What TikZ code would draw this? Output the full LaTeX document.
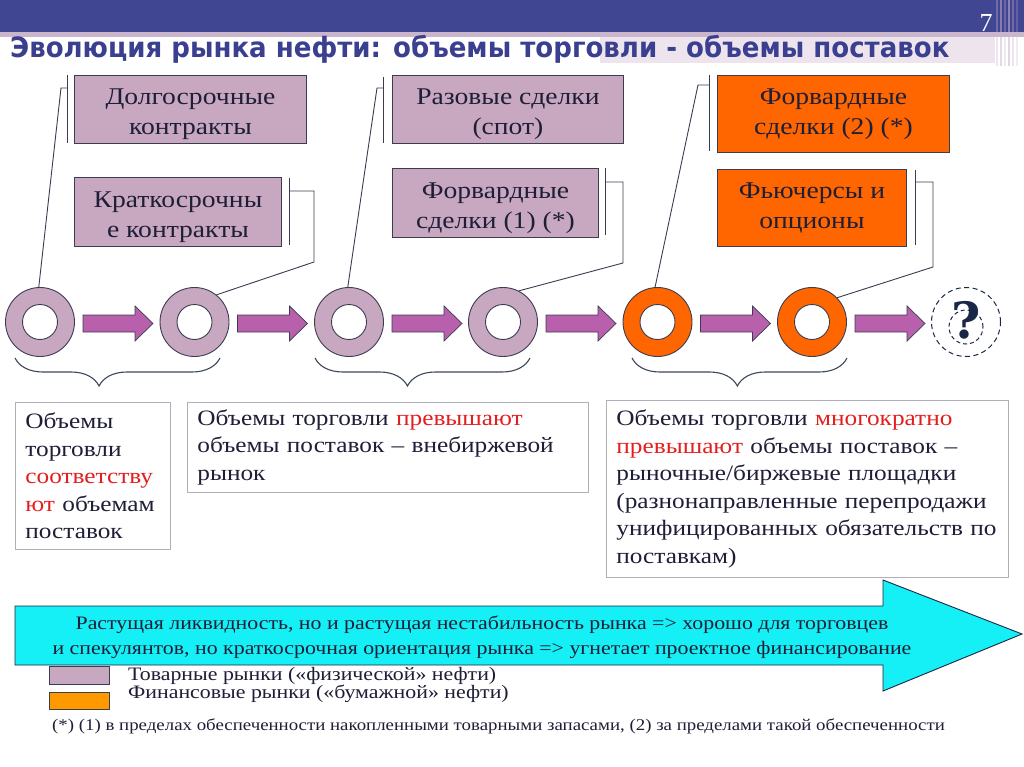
\documentclass[tikz,border=0pt]{standalone}
\usepackage{fontspec}
\setmainfont{Liberation Serif}
\newfontfamily\bodyfont{Liberation Serif}[FakeStretch=1.15]
\newfontfamily\titlefont{DejaVu Sans}[FakeStretch=0.93]
\newfontfamily\qfont{DejaVu Serif}
\usetikzlibrary{decorations.pathreplacing}
\definecolor{hdr}{RGB}{65,70,147}
\definecolor{hdrlight}{RGB}{201,181,204}
\definecolor{hdrpale}{RGB}{238,228,238}
\definecolor{titleblue}{RGB}{58,63,143}
\definecolor{mauve}{RGB}{200,168,192}
\definecolor{orng}{RGB}{255,102,0}
\definecolor{legorange}{RGB}{255,153,0}
\definecolor{bordc}{RGB}{60,60,80}
\definecolor{txt}{RGB}{30,30,55}
\definecolor{redtxt}{RGB}{228,30,30}
\definecolor{flowc}{RGB}{184,96,172}
\definecolor{cyanc}{RGB}{20,240,245}
\definecolor{navy}{RGB}{25,40,70}
\definecolor{graybord}{RGB}{175,175,185}
\definecolor{bracec}{RGB}{60,72,90}
\newcommand{\rt}[1]{\textcolor{redtxt}{#1}}
\newcommand{\tstrut}{\rule{0pt}{26pt}}
\tikzset{
  mbox/.style={draw=bordc, line width=0.9pt, fill=mauve, anchor=north west, inner sep=0pt, align=center, text=txt, font=\bodyfont\fontsize{24}{30}\selectfont},
  obox/.style={mbox, fill=orng},
  ring/.style={circle, draw=bordc, line width=0.9pt, minimum size=69pt, inner sep=0pt},
  hole/.style={circle, draw=bordc, fill=white, line width=0.9pt, minimum size=35pt, inner sep=0pt},
  flowarrow/.style={draw=bordc, line width=0.7pt, fill=flowc},
  callout/.style={draw=bordc, line width=0.9pt},
  bracestyle/.style={draw=bracec, line width=1.1pt},
  txtbox/.style={draw=graybord, line width=0.8pt, fill=white, anchor=north west, align=left, text=txt, font=\bodyfont\fontsize{22}{27.5}\selectfont, inner xsep=10pt, inner ysep=7pt},
  legtext/.style={anchor=base west, inner sep=0pt, text=txt, font=\bodyfont\fontsize{19}{19}\selectfont}
}
\begin{document}
\begin{tikzpicture}[x=1pt,y=-1pt]
\useasboundingbox (0,0) rectangle (1024,767);
\fill[white] (0,0) rectangle (1024,767);
% header
\fill[hdr] (0,0) rectangle (1024,32);
\fill[hdrlight] (0,32) rectangle (1024,37);
\fill[hdrpale] (600,37) rectangle (995,63);
\foreach \x/\o in {996/0.35,1000/0.5,1004/0.3,1008/0.55,1012/0.35,1016/0.25}{
  \fill[hdrlight, opacity=\o] (\x,0) rectangle ({\x+2},66);
}
\node[anchor=base, inner sep=0pt, text=white, font=\fontsize{26}{26}\selectfont] (pg) at (986,32) {7};
\node[anchor=base west, inner sep=0pt, text=titleblue, font=\titlefont\bfseries\fontsize{28}{30}\selectfont] (title) at (10,58) {Эволюция рынка нефти: объемы торговли - объемы поставок};

% boxes
\node[mbox, minimum width=232pt, minimum height=68pt] (b1) at (74,75) {\tstrut Долгосрочные\\контракты};
\node[mbox, minimum width=207pt, minimum height=69pt] (b2) at (74,177) {\tstrut Краткосрочны\\е контракты};
\node[mbox, minimum width=231pt, minimum height=68pt] (b3) at (392,75) {\tstrut Разовые сделки\\(спот)};
\node[mbox, minimum width=206pt, minimum height=69pt] (b4) at (392,168) {\tstrut Форвардные\\сделки (1) (*)};
\node[obox, minimum width=232pt, minimum height=77pt] (b5) at (717,75) {Форвардные\\сделки (2) (*)};
\node[obox, minimum width=189pt, minimum height=77pt] (b6) at (717,169) {Фьючерсы и\\опционы};

% circles
\foreach \i/\x/\c in {1/40/mauve,2/194.5/mauve,3/349/mauve,4/503/mauve,5/657.5/orng,6/812/orng}{
  \node[ring, fill=\c] (c\i) at (\x,322) {};
  \node[hole] (h\i) at (\x,322) {};
}
% flow arrows
\foreach \x in {40,194.5,349,503,657.5,812}{
  \filldraw[flowarrow] ({\x+43},315) -- ({\x+95},315) -- ({\x+95},306) -- ({\x+113},323.5) -- ({\x+95},341) -- ({\x+95},332) -- ({\x+43},332) -- cycle;
}
% question
\node[circle, draw=navy, dash pattern=on 5pt off 3.5pt, line width=1pt, minimum size=69pt, inner sep=0pt] (q) at (966,322) {};
\node[circle, draw=navy, dash pattern=on 4pt off 3pt, line width=1pt, minimum size=34pt, inner sep=0pt] (qi) at (966,327) {};
\node[text=navy, inner sep=0pt, font=\qfont\bfseries\fontsize{50}{50}\selectfont] (qm) at (966,320) {?};

% callouts
\coordinate (t1) at (67,88);
\draw[callout] (67,75) -- (67,143);
\draw[callout] (c1.92) -- (61,88) -- (t1);
\coordinate (t2) at (289,191);
\draw[callout] (289,178) -- (289,245);
\draw[callout] (t2) -- (314,191) -- (314,262) -- (c2.51);
\coordinate (t3) at (383,88);
\draw[callout] (383,77) -- (383,143);
\draw[callout] (c3.92) -- (377,88) -- (t3);
\coordinate (t4) at (605,182);
\draw[callout] (605,168) -- (605,235);
\draw[callout] (t4) -- (623,182) -- (623,263) -- (c4.63);
\coordinate (t5) at (709,85);
\draw[callout] (709,75) -- (709,151);
\draw[callout] (c5.94) -- (698,85) -- (t5);
\coordinate (t6) at (915,182);
\draw[callout] (915,170) -- (915,245);
\draw[callout] (t6) -- (933,182) -- (933,267) -- (c6.44);

% braces
\draw[bracestyle, decorate, decoration={brace, mirror, amplitude=28pt, aspect=0.41}] (15,358) -- (220,358);
\draw[bracestyle, decorate, decoration={brace, mirror, amplitude=28pt, aspect=0.43}] (315,358) -- (530,358);
\draw[bracestyle, decorate, decoration={brace, mirror, amplitude=28pt, aspect=0.49}] (632,358) -- (847,358);

% text boxes
\node[txtbox, text width=135pt, minimum height=147pt] (ta) at (15,402) {Объемы\\торговли\\\rt{соответству}\\\rt{ют} объемам\\поставок};
\node[txtbox, text width=381pt, minimum height=90pt] (tb) at (187,402) {Объемы торговли \rt{превышают}\\объемы поставок – внебиржевой\\рынок};
\node[txtbox, text width=382pt, minimum height=177pt] (tc) at (606,400) {Объемы торговли \rt{многократно}\\\rt{превышают} объемы поставок –\\рыночные/биржевые площадки\\(разнонаправленные перепродажи\\унифицированных обязательств по\\поставкам)};

% legend
\node[draw=bordc, fill=mauve, line width=0.8pt, minimum width=60pt, minimum height=18pt, anchor=north west, inner sep=0pt] (l1) at (49,666) {};
\node[draw=bordc, fill=legorange, line width=0.8pt, minimum width=60pt, minimum height=17pt, anchor=north west, inner sep=0pt] (l2) at (49,692) {};
\node[legtext] (lt1) at (128,680) {Товарные рынки («физической» нефти)};
\node[legtext] (lt2) at (128,698) {Финансовые рынки («бумажной» нефти)};

% big arrow
\filldraw[draw=navy, line width=0.9pt, fill=cyanc] (15,606) -- (883,606) -- (883,580) -- (1022,634) -- (883,691) -- (883,665) -- (15,665) -- cycle;
\node[align=center, inner sep=0pt, text=txt, font=\bodyfont\fontsize{19}{25}\selectfont] (arrtext) at (482,637) {Растущая ликвидность, но и растущая нестабильность рынка => хорошо для торговцев\\и спекулянтов, но краткосрочная ориентация рынка => угнетает проектное финансирование};

% footnote
\node[anchor=base west, inner sep=0pt, text=txt, font=\bodyfont\fontsize{16.4}{17}\selectfont] (fn) at (52,730) {(*) (1) в пределах обеспеченности накопленными товарными запасами, (2) за пределами такой обеспеченности};
\end{tikzpicture}
\end{document}
